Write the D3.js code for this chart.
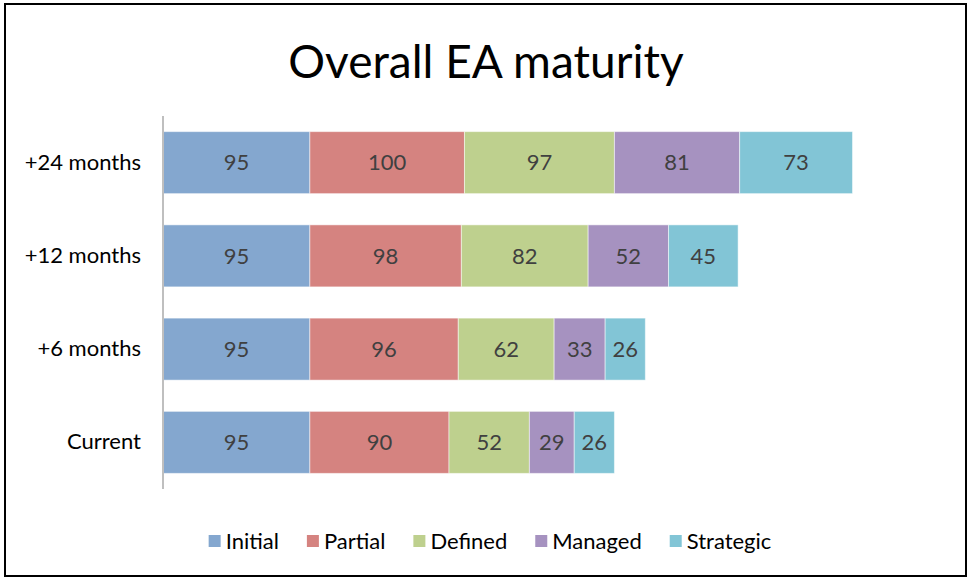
<!DOCTYPE html>
<html>
<head>
<meta charset="utf-8">
<script src="https://cdn.jsdelivr.net/npm/d3@7"></script>
<style>
  body { margin: 0; background: #fff; }
  svg { display: block; font-family: Lato, "Open Sans", sans-serif; }
</style>
</head>
<body>
<script>
    'use strict';

    var categories = ['+24 months', '+12 months', '+6 months', 'Current'];
    var seriesNames = ['Initial', 'Partial', 'Defined', 'Managed', 'Strategic'];
    var initial   = [95, 95, 95, 95];
    var partial   = [100, 98, 96, 90];
    var defined   = [97, 82, 62, 52];
    var managed   = [81, 52, 33, 29];
    var strategic = [73, 45, 26, 26];
    var colors = ['#84a7cf', '#d58380', '#bed08e', '#a692c0', '#82c5d6'];

    var width = 969;
    var height = 580;
    var series = [initial, partial, defined, managed, strategic];

    var rows = categories.map(function (c, i) {
        var row = { category: c };
        seriesNames.forEach(function (s, j) { row[s] = series[j][i]; });
        return row;
    });
    var stacked = d3.stack().keys(seriesNames)(rows);

    var svg = d3.select('body')
        .append('svg')
        .attr('width', width)
        .attr('height', height)
        ;

    // chart frame
    svg.append('rect')
        .attr('x', 5)
        .attr('y', 4)
        .attr('width', 961)
        .attr('height', 572)
        .attr('fill', '#fff')
        .attr('stroke', '#000')
        .attr('stroke-width', 2)
        ;

    svg.append('text')
        .attr('x', 486)
        .attr('y', 78)
        .attr('text-anchor', 'middle')
        .attr('font-size', 46)
        .attr('fill', '#000')
        .text('Overall EA maturity')
        ;

    var x = d3.scaleLinear().domain([0, 500]).range([163, 936]);
    var y = d3.scaleBand()
        .domain(categories)
        .range([116, 489])
        .paddingInner(0.335)
        .paddingOuter(0.1675)
        ;

    var groups = svg.selectAll('g.series')
        .data(stacked)
        .enter()
        .append('g')
        .attr('class', 'series')
        .attr('fill', function (d, i) { return colors[i]; })
        ;

    groups.selectAll('rect')
        .data(function (d) { return d; })
        .enter()
        .append('rect')
        .attr('x', function (d) { return x(d[0]); })
        .attr('y', function (d) { return y(d.data.category); })
        .attr('width', function (d) { return x(d[1]) - x(d[0]); })
        .attr('height', y.bandwidth())
        .attr('stroke', 'rgba(255,255,255,0.5)')
        .attr('stroke-width', 1)
        ;

    groups.selectAll('text')
        .data(function (d) { return d; })
        .enter()
        .append('text')
        .attr('x', function (d) { return (x(d[0]) + x(d[1])) / 2; })
        .attr('y', function (d) { return y(d.data.category) + y.bandwidth() / 2; })
        .attr('dy', '0.35em')
        .attr('text-anchor', 'middle')
        .attr('font-size', 22)
        .attr('fill', '#404040')
        .text(function (d) { return d[1] - d[0]; })
        ;

    // category axis
    var yAxis = svg.append('g')
        .attr('transform', 'translate(163,0)')
        .call(d3.axisLeft(y).tickSize(0).tickPadding(22))
        ;
    yAxis.select('.domain').attr('stroke', '#bfbfbf').attr('stroke-width', 2).attr('d', 'M0,116V489');
    yAxis.selectAll('text')
        .attr('font-size', 22)
        .attr('font-family', 'Lato, sans-serif')
        .attr('fill', '#000')
        ;

    // legend
    var legend = svg.append('g').attr('transform', 'translate(0,541)');
    var items = legend.selectAll('g')
        .data(seriesNames)
        .enter()
        .append('g')
        ;
    items.append('rect')
        .attr('x', 0)
        .attr('y', -6)
        .attr('width', 12)
        .attr('height', 12)
        .attr('fill', function (d, i) { return colors[i]; })
        ;
    items.append('text')
        .attr('x', 17)
        .attr('dy', '0.35em')
        .attr('font-size', 22)
        .attr('fill', '#000')
        .text(function (d) { return d; })
        ;
    var gap = 28;
    var offsets = [];
    var total = 0;
    items.each(function () {
        var w = 17 + this.querySelector('text').getComputedTextLength();
        offsets.push(total);
        total += w + gap;
    });
    total -= gap;
    var start = 490 - total / 2;
    items.attr('transform', function (d, i) { return 'translate(' + (start + offsets[i]) + ',0)'; });
</script>
</body>
</html>
